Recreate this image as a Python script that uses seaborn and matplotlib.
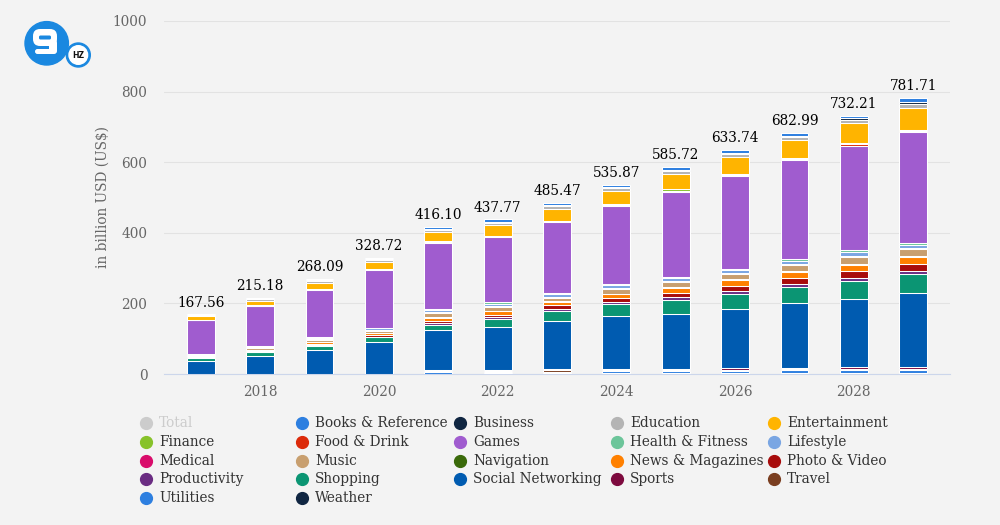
import matplotlib
matplotlib.use("Agg")
import matplotlib.pyplot as plt
import numpy as np
import pandas as pd
import seaborn as sns
from matplotlib.lines import Line2D
from matplotlib.patches import Circle, FancyBboxPatch

# ---------------- data ----------------
years = [2017, 2018, 2019, 2020, 2021, 2022, 2023, 2024, 2025, 2026, 2027, 2028, 2029]
totals = [167.56, 215.18, 268.09, 328.72, 416.10, 437.77, 485.47, 535.87, 585.72, 633.74, 682.99, 732.21, 781.71]

books_reference = [1, 2, 3, 4, 5, 6, 7, 7, 7, 8, 8, 8, 12]
business = [1, 2, 2, 2, 3, 3, 3, 3, 3, 3, 3, 4, 4]
education = [2, 3, 4, 5, 6, 6, 7, 8, 8, 9, 10, 10, 11]
entertainment = [10.56, 14, 17, 20, 26, 31, 34, 36, 45, 47, 50, 57, 63]
finance = [1, 1, 1, 1, 2, 2, 2, 2, 3, 3, 3, 3, 3]
food_drink = [1, 1, 2, 2, 2, 2, 2, 3, 3, 3, 3, 4, 3]
games = [95.2, 113.2, 134, 163.72, 188, 185, 201, 221, 241, 262, 280, 295, 314]
health_fitness = [1, 2, 2, 2, 3, 4, 4, 4, 5, 5, 5, 5, 6]
lifestyle = [2, 3, 4, 4, 5, 5, 6, 8, 7, 8, 10, 12, 10]
medical = [1, 1, 2, 2, 3, 3, 3, 3, 4, 3, 3, 3, 3]
music = [3, 4, 6, 7, 12, 11, 10, 13, 14, 14, 17, 20, 19]
navigation = [1, 1, 1, 1, 2, 2, 2, 2, 2, 2, 2, 2, 2]
news_magazines = [2, 3, 4, 5, 9, 12, 10, 10, 14, 18, 17, 18, 20]
photo_video = [1, 2, 4, 4, 6, 5, 11, 12, 13, 14, 17, 20, 19]
productivity = [1, 1, 2, 2, 4, 5, 5, 6, 8, 8, 8, 9, 10]
shopping = [9, 12.18, 11, 13, 14.1, 22.77, 27.47, 32.87, 37.72, 41.74, 46.99, 49.21, 53.71]
social_networking = [35, 49, 68.09, 90, 114, 121, 136, 150, 156, 168, 182, 194, 210]
sports = [0.2, 0.2, 0.3, 0.3, 3, 3, 5, 4, 4, 5, 5, 6, 6]
travel = [0.2, 0.2, 0.3, 0.3, 3, 3, 3, 3, 3, 3, 3, 3, 3]
utilities = [0.3, 0.3, 0.3, 0.3, 5, 4, 5, 6, 6, 7, 8, 8, 8]
weather = [0.1, 0.1, 0.1, 0.1, 1, 2, 2, 2, 2, 2, 2, 2, 2]

categories = ["Books & Reference", "Business", "Education", "Entertainment", "Finance",
              "Food & Drink", "Games", "Health & Fitness", "Lifestyle", "Medical", "Music",
              "Navigation", "News & Magazines", "Photo & Video", "Productivity", "Shopping",
              "Social Networking", "Sports", "Travel", "Utilities", "Weather"]
series = [books_reference, business, education, entertainment, finance, food_drink, games,
          health_fitness, lifestyle, medical, music, navigation, news_magazines, photo_video,
          productivity, shopping, social_networking, sports, travel, utilities, weather]
colors = ["#2d7fe0", "#0f2541", "#b4b4b4", "#ffb400", "#87c22a", "#dc2a0a", "#a05ccf",
          "#6cc59a", "#7aa6e3", "#d90c6b", "#c89f6f", "#3a6a0a", "#ff8000", "#a80c0c",
          "#6a2c82", "#0b9573", "#005bb0", "#7d0a3e", "#7a3e20", "#2d7fe0", "#0f2541"]

# ---------------- style ----------------
BG = "#f3f3f3"
sns.set_style("white", {"axes.facecolor": BG, "figure.facecolor": BG})
plt.rcParams["font.family"] = ["DejaVu Serif"]

fig = plt.figure(figsize=(10, 5.25), dpi=100)
fig.patch.set_facecolor(BG)
ax = fig.add_axes([0.164, (525 - 374) / 525, 0.786, (374 - 21) / 525])
ax.set_facecolor(BG)

bottom = np.zeros(len(years))
# the first series sits on top of each stack -> draw from last to first
for name, vals, col in reversed(list(zip(categories, series, colors))):
    d = pd.DataFrame({"year": years, "value": vals})
    sns.barplot(data=d, x="year", y="value", native_scale=True, color=col,
                width=0.47, bottom=bottom, edgecolor="white", linewidth=0.75,
                errorbar=None, saturation=1, ax=ax, zorder=3)
    bottom = bottom + np.array(vals, dtype=float)

for yr, tot in zip(years, totals):
    ax.text(yr, tot + 14, f"{tot:.2f}", ha="center", va="bottom",
            fontsize=9.8, color="#000000", zorder=5)

ax.set_xlim(2016.38, 2029.62)
ax.set_ylim(0, 1000)
ax.set_yticks([0, 200, 400, 600, 800, 1000])
ax.set_yticklabels(["0", "200", "400", "600", "800", "1000"])
ax.set_xticks([2018, 2020, 2022, 2024, 2026, 2028])
ax.set_xticklabels(["2018", "2020", "2022", "2024", "2026", "2028"])
ax.grid(axis="y", color="#e2e2e2", linewidth=0.8, zorder=0)
ax.grid(axis="x", visible=False)
ax.set_axisbelow(True)
for s in ["top", "right", "left"]:
    ax.spines[s].set_visible(False)
ax.spines["bottom"].set_color("#ccd6eb")
ax.spines["bottom"].set_linewidth(0.8)
ax.tick_params(axis="y", length=0, pad=12, labelsize=9.8, labelcolor="#666666")
ax.tick_params(axis="x", length=7, width=0.8, color="#ccd6eb", pad=1,
               labelsize=9.8, labelcolor="#666666")
ax.set_xlabel("")
ax.set_ylabel("in billion USD (US$)", fontsize=9.8, color="#666666", labelpad=2)

# ---------------- legend (row-major, 5 columns) ----------------
leg_labels = ["Total"] + categories
leg_colors = ["#cccccc"] + colors
col_x = [146, 302, 460, 617, 774]
row_y = [423, 442, 461, 479, 498]
for i, (lab, col) in enumerate(zip(leg_labels, leg_colors)):
    r, c = divmod(i, 5)
    x, y = col_x[c], row_y[r]
    fig.add_artist(Line2D([x / 1000], [1 - y / 525], marker="o", markersize=8.5,
                          color=col, linestyle="none", transform=fig.transFigure))
    fig.text((x + 13) / 1000, 1 - y / 525, lab, ha="left", va="center",
             fontsize=9.8, color="#cccccc" if lab == "Total" else "#333333")

# ---------------- logo ----------------
lax = fig.add_axes([0, 1 - 90 / 525, 0.11, 90 / 525])
lax.set_xlim(0, 110)
lax.set_ylim(90, 0)
lax.set_aspect("equal")
lax.axis("off")
lax.add_patch(Circle((46.7, 43.3), 21.7, color="#1a88e0"))
# stylised "9": white rounded block with a blue slot and a tail
lax.add_patch(FancyBboxPatch((33, 29), 24, 17, boxstyle="round,pad=0,rounding_size=7",
                             fc="white", ec="none"))
lax.add_patch(FancyBboxPatch((39, 35.5), 12, 4, boxstyle="round,pad=0,rounding_size=1.5",
                             fc="#1a88e0", ec="none"))
lax.add_patch(FancyBboxPatch((49, 40), 8, 14, boxstyle="round,pad=0,rounding_size=3",
                             fc="white", ec="none"))
lax.add_patch(FancyBboxPatch((35, 49), 20, 5, boxstyle="round,pad=0,rounding_size=2.5",
                             fc="white", ec="none"))
lax.add_patch(Circle((78.3, 55), 12, color="#1a88e0"))
lax.add_patch(Circle((78.3, 55), 9.3, color="white"))
lax.text(78.3, 55.5, "HZ", ha="center", va="center", fontsize=5.5, fontweight="bold",
         color="#111111", family="DejaVu Sans")

fig.savefig("out.png", dpi=100, facecolor=BG)
